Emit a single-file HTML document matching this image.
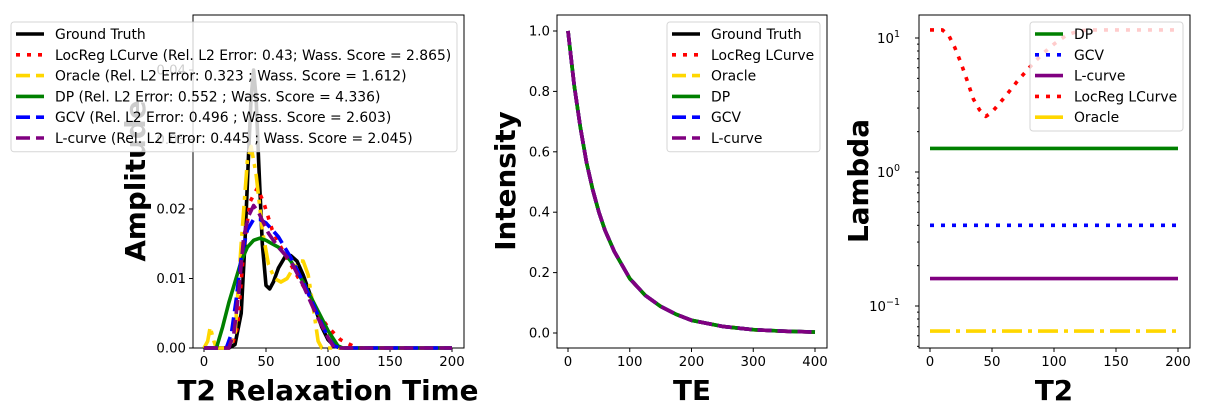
<!DOCTYPE html>
<html><head><meta charset="utf-8"><style>
body{margin:0;background:#fff}
svg{display:block;font-family:"DejaVu Sans","Liberation Sans",sans-serif}
</style></head><body>
<svg id="s" width="1206" height="420" viewBox="0 0 1206 420"></svg>
<script>
// ---------- data ----------
const gtT=[0,20,25,30,33,36,38,40,42,44,47,50,53,56,60,65,70,75,80,85,90,95,100,105,110,120,200];
const gtV=[0,0,0.0005,0.005,0.015,0.028,0.036,0.040,0.036,0.027,0.015,0.009,0.0085,0.0095,0.0115,0.013,0.0133,0.0125,0.0105,0.008,0.0055,0.003,0.0012,0.0003,0,0,0];
const orT=[0,3,5,8,10,20,25,30,35,38,42,47,52,57,62,67,72,77,80,84,88,92,95,100,200];
const orV=[0,0.001,0.003,0.001,0,0,0.002,0.015,0.027,0.029,0.025,0.017,0.012,0.0100,0.0095,0.0100,0.0115,0.0125,0.0125,0.0105,0.006,0.001,0,0,0];
const lrT=[0,22,27,32,37,43,48,55,62,70,78,85,92,100,110,120,125,200];
const lrV=[0,0,0.003,0.014,0.021,0.023,0.021,0.017,0.0145,0.012,0.0095,0.0075,0.005,0.003,0.0012,0.0003,0,0];
const dpT=[0,10,15,20,25,30,35,40,45,50,55,60,70,80,90,100,108,112,200];
const dpV=[0,0,0.003,0.0065,0.0095,0.0125,0.0145,0.0155,0.0158,0.0155,0.015,0.0145,0.0125,0.0095,0.006,0.0025,0.0003,0,0];
const gcT=[0,18,22,26,30,35,40,45,50,55,60,65,70,80,90,100,105,110,200];
const gcV=[0,0,0.002,0.007,0.013,0.017,0.0185,0.0185,0.018,0.017,0.016,0.0145,0.013,0.0095,0.0055,0.0015,0.0003,0,0];
const lcT=[0,20,24,28,32,36,40,44,48,52,56,60,70,80,90,100,105,200];
const lcV=[0,0,0.002,0.008,0.016,0.019,0.0205,0.0195,0.018,0.0165,0.0155,0.0145,0.0125,0.009,0.005,0.0015,0,0];
const teT=[0,10,20,30,40,50,60,75,100,125,150,175,200,250,300,350,400];
const teV=[1.0,0.82,0.68,0.565,0.475,0.40,0.34,0.27,0.18,0.125,0.088,0.062,0.042,0.022,0.011,0.006,0.003];
const lamDP=1.5, lamGCV=0.4, lamLC=0.16, lamOR=0.065;
const lrLamT=[0,10,15,20,25,30,35,40,45,50,60,70,80,90,100,110,120,130,200];
const lrLamV=[11.5,11.5,10.5,8.5,6.5,4.8,3.5,2.9,2.6,2.8,3.6,4.7,6.0,7.5,9.0,10.5,11.3,11.5,11.5];
const xTicks=[0,50,100,150,200], teTicks=[0,100,200,300,400];
const ampTicks=[0,0.01,0.02,0.03,0.04], intTicks=[0,0.2,0.4,0.6,0.8,1.0];

// ---------- helpers ----------
const S=document.getElementById('s'),NS='http://www.w3.org/2000/svg';
function el(t,a,p){const e=document.createElementNS(NS,t);for(const k in a)e.setAttribute(k,a[k]);(p||S).appendChild(e);return e;}
function txt(x,y,s,a,p){const e=el('text',Object.assign({x:x,y:y},a),p);e.textContent=s;return e;}
const ST={solid:'',dot:'4,7',dash:'14,6',dd:'20,6,4,6'};
const LW=3.6;
function line(xs,ys,fx,fy,col,sty,name){
  const d=xs.map((v,i)=>(i?'L':'M')+fx(v).toFixed(1)+','+fy(ys[i]).toFixed(1)).join('');
  const e=el('path',{d:d,fill:'none',stroke:col,'stroke-width':LW,'stroke-dasharray':ST[sty]||'','stroke-linejoin':'round'});
  
  
  return e;
}
function frame(x0,y0,x1,y1,name){
  const r=el('rect',{x:x0,y:y0,width:x1-x0,height:y1-y0,fill:'none',stroke:'#000','stroke-width':1});
  
  
}
function xt(vals,fx,yb){vals.forEach(v=>{const x=fx(v);el('line',{x1:x,x2:x,y1:yb,y2:yb+4,stroke:'#000'});
  const t=txt(x,yb+18,String(v),{'font-size':13.3,'text-anchor':'middle'});});}
function yt(vals,fy,xl,fmt){vals.forEach(v=>{const y=fy(v);el('line',{x1:xl-4,x2:xl,y1:y,y2:y,stroke:'#000'});
  const t=txt(xl-7,y+4.5,fmt(v),{'font-size':13.3,'text-anchor':'end'});});}
function legend(x,y,w,items,name){
  const g=el('g',{});
  el('rect',{x:x,y:y,width:w,height:items.length*20.8+5,rx:3,fill:'#fff','fill-opacity':0.8,stroke:'#ccc','stroke-opacity':0.8},g);
  items.forEach((it,i)=>{const yy=y+12+i*20.8;
    el('line',{x1:x+5,x2:x+33,y1:yy,y2:yy,stroke:it[1],'stroke-width':LW,'stroke-dasharray':ST[it[2]]},g);
    const t=txt(x+44,yy+5,it[0],{'font-size':13.9},g);});
}
function title(x,y,s,rot,name){const a={'font-size':27.8,'font-weight':'bold','text-anchor':'middle'};
  if(rot)a.transform='rotate(-90 '+x+' '+y+')';const t=txt(x,y,s,a);}

// ---------- panel 1 ----------
const fx1=v=>204+v*1.24, fy1=v=>348-v*6950;
frame(193,15,464,348,'amplitude-axes');
xt(xTicks,fx1,348); yt(ampTicks,fy1,193,v=>v.toFixed(2));
line(gtT,gtV,fx1,fy1,'#000','solid','ground-truth-line');
line(lrT,lrV,fx1,fy1,'#f00','dot','locreg-line');
line(orT,orV,fx1,fy1,'#ffd700','dd','oracle-line');
line(dpT,dpV,fx1,fy1,'#008000','solid','dp-line');
line(gcT,gcV,fx1,fy1,'#00f','dash','gcv-line');
line(lcT,lcV,fx1,fy1,'#800080','dash','lcurve-line');
title(328,400,'T2 Relaxation Time',0,'x-axis-title');
title(145,181,'Amplitude',1,'y-axis-title');
legend(11,22,446,[['Ground Truth','#000','solid'],['LocReg LCurve (Rel. L2 Error: 0.43; Wass. Score = 2.865)','#f00','dot'],['Oracle (Rel. L2 Error: 0.323 ; Wass. Score = 1.612)','#ffd700','dash'],['DP (Rel. L2 Error: 0.552 ; Wass. Score = 4.336)','#008000','solid'],['GCV (Rel. L2 Error: 0.496 ; Wass. Score = 2.603)','#00f','dash'],['L-curve (Rel. L2 Error: 0.445 ; Wass. Score = 2.045)','#800080','dash']],'legend-amplitude');

// ---------- panel 2 ----------
const fx2=v=>568+v*0.6175, fy2=v=>333-v*302;
frame(557,15,827,348,'intensity-axes');
xt(teTicks,fx2,348); yt(intTicks,fy2,557,v=>v.toFixed(1));
line(teT,teV,fx2,fy2,'#000','solid','ground-truth-decay');
line(teT,teV,fx2,fy2,'#f00','dot','locreg-decay');
line(teT,teV,fx2,fy2,'#ffd700','dash','oracle-decay');
line(teT,teV,fx2,fy2,'#008000','solid','dp-decay');
line(teT,teV,fx2,fy2,'#00f','dash','gcv-decay');
line(teT,teV,fx2,fy2,'#800080','dash','lcurve-decay');
title(692,400,'TE',0,'x-axis-title-te');
title(515,181,'Intensity',1,'y-axis-title-intensity');
legend(667,22,153,[['Ground Truth','#000','solid'],['LocReg LCurve','#f00','dot'],['Oracle','#ffd700','dash'],['DP','#008000','solid'],['GCV','#00f','dash'],['L-curve','#800080','dash']],'legend-intensity');

// ---------- panel 3 ----------
const fx3=v=>930+v*1.24, fy3=v=>172-Math.log10(v)*134;
frame(919,15,1190,348,'lambda-axes');
xt(xTicks,fx3,348);
[-1,0,1].forEach(p=>{const y=fy3(Math.pow(10,p));el('line',{x1:915,x2:919,y1:y,y2:y,stroke:'#000'});
  const t=el('text',{x:900,y:y+5,'font-size':13.3,'text-anchor':'end'});
  t.innerHTML='10<tspan dy="-6" font-size="9.5">'+(p<0?'−1':p)+'</tspan>';});
for(let p=-2;p<=1;p++)for(let k=2;k<10;k++){const y=fy3(k*Math.pow(10,p));if(y>15&&y<348)el('line',{x1:917,x2:919,y1:y,y2:y,stroke:'#000'});}
const xr=[0,200];
line(xr,[lamDP,lamDP],fx3,fy3,'#008000','solid','dp-lambda');
line(xr,[lamGCV,lamGCV],fx3,fy3,'#00f','dot','gcv-lambda');
line(xr,[lamLC,lamLC],fx3,fy3,'#800080','solid','lcurve-lambda');
line(lrLamT,lrLamV,fx3,fy3,'#f00','dot','locreg-lambda');
line(xr,[lamOR,lamOR],fx3,fy3,'#ffd700','dd','oracle-lambda');
title(1054,400,'T2',0,'x-axis-title-t2');
title(868,181,'Lambda',1,'y-axis-title-lambda');
legend(1030,22,153,[['DP','#008000','solid'],['GCV','#00f','dot'],['L-curve','#800080','solid'],['LocReg LCurve','#f00','dot'],['Oracle','#ffd700','solid']],'legend-lambda');
</script>
</body></html>
